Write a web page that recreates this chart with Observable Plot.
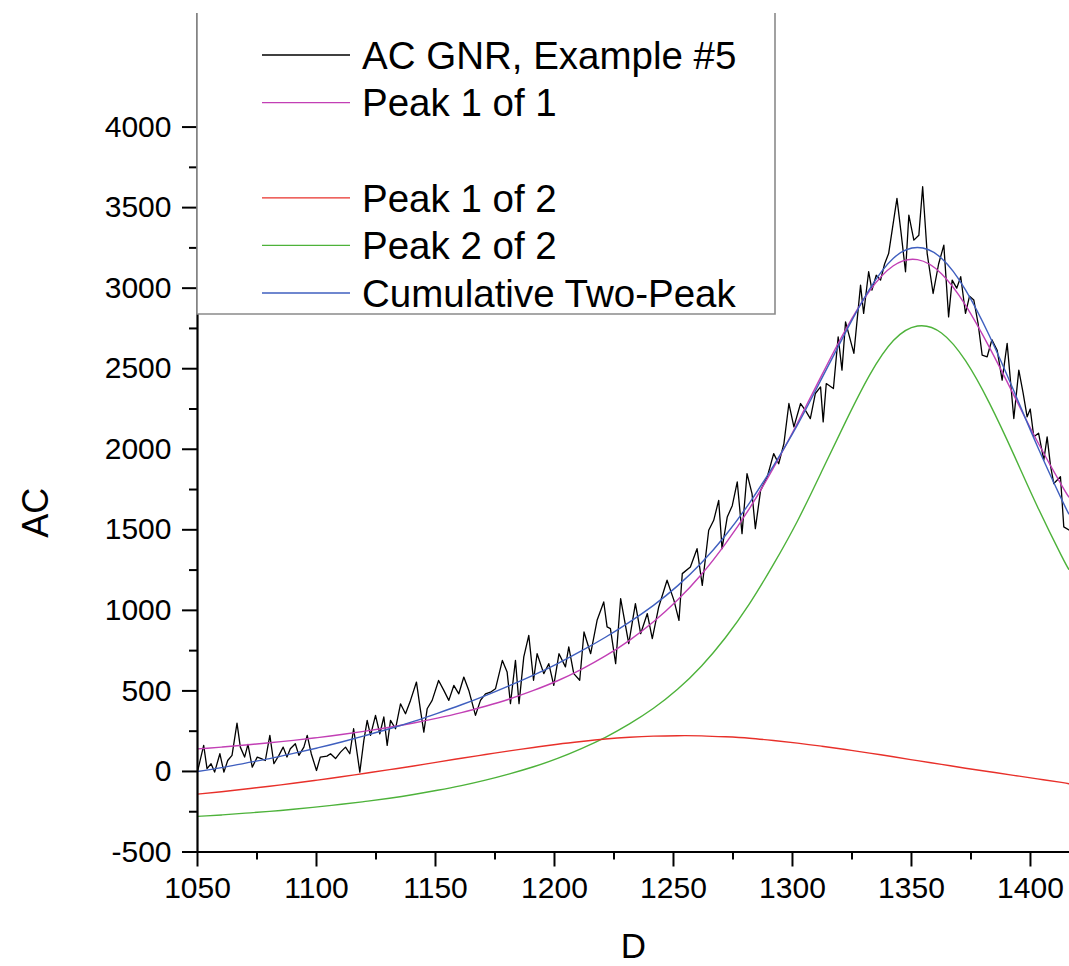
<!DOCTYPE html>
<html><head><meta charset="utf-8">
<script src="https://cdn.jsdelivr.net/npm/d3@7"></script>
<script src="https://cdn.jsdelivr.net/npm/@observablehq/plot@0.6"></script>
<style>
body{margin:0;background:#fff}
#chart{position:relative;width:1069px;height:966px}
</style>
</head><body><div id="chart"></div>
<script>
// ---- data ----
const dataX = [1050.1,1052.6,1054.0,1055.7,1057.2,1059.4,1061.1,1062.7,1064.5,1066.6,1068.0,1069.8,1071.2,1073.0,1075.1,1076.8,1078.5,1080.4,1082.1,1084.2,1086.0,1087.6,1089.0,1091.1,1092.6,1094.7,1096.1,1097.8,1100.0,1101.6,1104.4,1105.9,1108.0,1110.1,1112.2,1114.0,1115.6,1118.2,1119.9,1121.3,1122.7,1124.8,1126.6,1128.3,1129.7,1131.1,1133.2,1135.3,1137.4,1139.5,1142.0,1143.7,1145.1,1146.5,1148.6,1151.3,1153.5,1155.6,1157.7,1159.8,1161.9,1164.0,1166.8,1168.9,1171.0,1173.1,1175.2,1178.1,1180.1,1181.5,1183.6,1185.1,1187.1,1189.2,1191.2,1192.7,1195.5,1197.6,1199.7,1201.9,1204.6,1206.0,1208.1,1210.6,1212.4,1215.2,1217.9,1220.7,1222.1,1223.5,1225.7,1227.8,1231.2,1234.0,1236.2,1239.0,1241.1,1243.8,1247.3,1250.2,1252.3,1253.7,1257.1,1259.9,1262.1,1264.8,1266.9,1269.0,1270.4,1272.6,1274.7,1276.8,1278.8,1280.9,1283.0,1284.4,1286.6,1289.4,1292.1,1294.2,1296.4,1298.5,1300.6,1303.4,1305.5,1307.5,1309.6,1311.8,1312.9,1314.2,1317.2,1319.2,1320.8,1322.3,1325.8,1328.6,1329.9,1332.0,1333.4,1335.2,1337.0,1338.7,1340.4,1343.9,1345.5,1347.5,1348.9,1351.0,1353.1,1354.7,1356.6,1359.1,1361.4,1363.6,1365.6,1367.1,1369.0,1370.7,1372.7,1374.4,1376.2,1378.0,1379.7,1381.8,1383.8,1386.0,1388.1,1390.2,1393.0,1395.1,1396.9,1398.6,1399.9,1401.4,1403.4,1405.6,1407.0,1408.4,1409.8,1412.6,1414.0,1416.4];
const dataY = [6,162,17,48,-4,110,-4,68,100,300,151,89,168,27,89,80,68,224,48,100,151,90,141,172,100,151,224,110,6,89,95,110,80,120,151,110,265,-4,193,317,224,348,234,338,162,317,265,420,358,441,555,379,244,389,441,565,503,441,534,482,586,503,348,441,482,492,513,689,617,421,690,421,711,845,566,731,607,669,534,731,649,773,607,566,866,731,938,1052,897,887,669,1073,793,1042,855,980,824,1021,1187,1062,938,1228,1269,1383,1155,1497,1559,1683,1383,1580,1650,1797,1476,1849,1725,1507,1745,1828,1973,1910,2035,2284,2139,2284,2240,2190,2346,2387,2170,2408,2377,2698,2491,2791,2595,3019,2843,3102,2988,3080,3050,3150,3215,3557,3360,3102,3454,3298,3329,3630,3215,2967,3150,3267,2822,3050,3000,3071,2843,2950,2926,2780,2584,2574,2680,2615,2429,2657,2191,2491,2350,2201,2250,2077,2100,1932,2077,1900,1787,1829,1518,1497];

const fitX = [1050,1060.1,1070.2,1080.3,1090.3,1100.4,1110.5,1120.6,1130.7,1140.8,1150.8,1160.9,1171.0,1181.1,1191.2,1201.3,1211.3,1221.4,1231.5,1241.6,1251.7,1261.8,1271.8,1281.9,1292.0,1302.1,1312.2,1322.3,1332.4,1342.4,1352.5,1362.6,1372.7,1382.8,1392.9,1402.9,1413.0,1416.1];
const peak1of1 = [140,151,164,178,193,210,229,250,274,301,331,365,405,450,503,563,634,717,814,929,1064,1224,1413,1632,1884,2163,2457,2742,2983,3139,3177,3090,2895,2631,2339,2048,1779,1704];
const peak1of2 = [-141,-126,-109,-92,-73,-54,-33,-11,11,34,58,82,105,128,149,169,186,201,212,219,222,221,215,206,192,176,157,136,114,91,67,44,20,-2,-24,-46,-68,-76];
const peak2of2 = [-279,-270,-259,-248,-235,-220,-204,-186,-166,-143,-117,-88,-54,-15,29,81,142,212,295,392,510,655,830,1040,1285,1555,1860,2170,2460,2675,2765,2722,2550,2285,1970,1645,1340,1255];
const cumulative = [0,24,52,80,112,146,183,223,265,311,361,414,471,533,598,670,748,833,927,1031,1152,1296,1465,1666,1897,2151,2437,2726,2994,3186,3252,3186,2990,2703,2366,2019,1692,1599];

const xTicks = [1050,1100,1150,1200,1250,1300,1350,1400];
const xMinor = [1075,1125,1175,1225,1275,1325,1375];
const yTicks = [-500,0,500,1000,1500,2000,2500,3000,3500,4000];
const yMinor = [-250,250,750,1250,1750,2250,2750,3250,3750];

const legendNames = ["AC GNR, Example #5","Peak 1 of 1","","Peak 1 of 2","Peak 2 of 2","Cumulative Two-Peak"];
const legendColors = ["#000000","#c23fb5",null,"#e8302a","#4db23a","#3f5fbf"];

// ---- tables ----
const dataRows = dataX.map((x,i)=>({x, y: dataY[i]}));
const fitRows = (arr)=>fitX.map((x,i)=>({x, y: arr[i]}));

const font = "'Liberation Sans', Arial, sans-serif";
const chart = Plot.plot({
  width: 1069, height: 966,
  marginLeft: 197, marginRight: 0, marginTop: 13, marginBottom: 114.5,
  x: {domain: [1050, 1416.4]},
  y: {domain: [-500, 4705]},
  style: {fontFamily: font, fontSize: "30px", background: "#fff", color: "#000"},
  marks: [
    Plot.line(dataRows, {x:"x", y:"y", stroke: legendColors[0], strokeWidth: 1.3, clip: true}),
    Plot.line(fitRows(peak2of2), {x:"x", y:"y", stroke: legendColors[4], strokeWidth: 1.4, curve: "natural", clip: true}),
    Plot.line(fitRows(peak1of2), {x:"x", y:"y", stroke: legendColors[3], strokeWidth: 1.4, curve: "natural", clip: true}),
    Plot.line(fitRows(peak1of1), {x:"x", y:"y", stroke: legendColors[1], strokeWidth: 1.4, curve: "natural", clip: true}),
    Plot.line(fitRows(cumulative), {x:"x", y:"y", stroke: legendColors[5], strokeWidth: 1.4, curve: "natural", clip: true}),
    Plot.ruleY([-500], {stroke: "#000", strokeWidth: 2.2}),
    Plot.ruleX([1050], {stroke: "#000", strokeWidth: 2.2}),
    Plot.axisX({ticks: xTicks, tickSize: 15, tickPadding: 10, strokeWidth: 2, tickFormat: d => String(d), label: null}),
    Plot.axisX({ticks: xMinor, tickSize: 8, strokeWidth: 2, text: null, label: null}),
    Plot.axisY({ticks: yTicks, tickSize: 15, tickPadding: 11, strokeWidth: 2, tickFormat: d => String(d), label: null}),
    Plot.axisY({ticks: yMinor, tickSize: 8, strokeWidth: 2, text: null, label: null}),
    Plot.text(["AC"], {frameAnchor: "left", dx: -161, dy: 80, rotate: -90, textAnchor: "middle", lineAnchor: "middle", fontSize: 36}),
    Plot.text(["D"], {frameAnchor: "bottom", dy: 95, textAnchor: "middle", lineAnchor: "middle", fontSize: 35})
  ]
});
document.getElementById("chart").appendChild(chart);

// ---- legend box (overlaid inside the plot area, top-left) ----
const svg = d3.select(chart);
const lg = svg.append("g").attr("font-family", font).attr("text-anchor", "start");
const box = {x0: 197, x1: 775, y0: 13, y1: 314};
lg.append("rect").attr("x", box.x0).attr("y", box.y0).attr("width", box.x1-box.x0).attr("height", box.y1-box.y0).attr("fill", "#fff");
lg.append("path").attr("d", `M${box.x0},${box.y0}V${box.y1}H${box.x1}V${box.y0}`).attr("fill","none").attr("stroke","#8a8a8a").attr("stroke-width",1.6);
legendNames.forEach((name, i) => {
  if (!name) return;
  const y = 55 + i*47.6;
  lg.append("line").attr("x1", 262).attr("x2", 350).attr("y1", y).attr("y2", y)
    .attr("stroke", legendColors[i]).attr("stroke-width", 1.3);
  lg.append("text").attr("x", 362).attr("y", y).attr("dy", "0.36em").attr("text-anchor", "start")
    .attr("font-size", 38.5).attr("fill", "#000").text(name);
});
</script></body></html>
